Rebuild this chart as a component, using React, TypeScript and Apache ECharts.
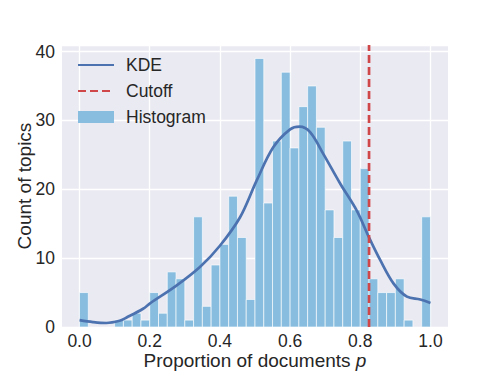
import React, { useEffect, useRef } from "react";
import * as echarts from "echarts";

const binEdgesStart = 0;
const binWidth = 0.025;
const histCounts = [
  5, 0, 0, 0, 1, 1, 2, 1, 5, 2,
  8, 7, 1, 16, 3, 9, 12, 19, 13, 4,
  39, 18, 27, 37, 26, 32, 35, 29, 17, 13,
  27, 17, 23, 7, 5, 5, 7, 1, 0, 16,
];
const kdeX = [0, 0.038, 0.076, 0.114, 0.133, 0.181, 0.2, 0.276, 0.343, 0.4, 0.457, 0.505, 0.552, 0.6, 0.627, 0.657, 0.695, 0.743, 0.79, 0.825, 0.857, 0.895, 0.933, 0.971, 1.0];
const kdeY = [1.0, 0.72, 0.58, 0.9, 1.35, 2.65, 3.4, 6.0, 8.7, 11.8, 15.9, 21.3, 26.1, 28.7, 29.1, 28.3, 25.1, 20.8, 16.9, 13.0, 9.7, 6.3, 4.4, 4.0, 3.5];
const cutoff = 0.825;
const xTicks = [0, 0.2, 0.4, 0.6, 0.8, 1.0];
const yMax = 40.95;

export default function App() {
  const ref = useRef<HTMLDivElement>(null);
  useEffect(() => {
    if (!ref.current) return;
    const chart = echarts.init(ref.current, null, { renderer: "svg" });
    const font = "Liberation Sans, Arial, sans-serif";
    const histData = histCounts.map((c, i) => [binEdgesStart + i * binWidth, binEdgesStart + (i + 1) * binWidth, c]);
    const kdeData = kdeX.map((x, i) => [x, kdeY[i]]);
    chart.setOption({
      animation: false,
      backgroundColor: "#ffffff",
      textStyle: { fontFamily: font },
      grid: { left: 62, right: 50, top: 45, bottom: 47, backgroundColor: "#eaeaf2", show: true, borderWidth: 0, containLabel: false, outerBoundsMode: "none" },
      legend: {
        show: true,
        orient: "vertical",
        left: 77,
        top: 56,
        padding: 0,
        itemWidth: 36,
        itemHeight: 12,
        itemGap: 8,
        textStyle: { fontSize: 17.5, color: "#262626", fontFamily: font, padding: [0, 0, 0, 7] },
        data: [
          { name: "KDE", itemStyle: { opacity: 0 } },
          { name: "Cutoff", itemStyle: { opacity: 0 } },
          { name: "Histogram", icon: "rect" },
        ],
      },
      xAxis: {
        type: "value",
        min: -0.05,
        max: 1.05,
        name: "Proportion of documents {i|p}",
        nameLocation: "middle",
        nameGap: 24,
        nameMoveOverlap: false,
        nameTextStyle: { fontSize: 19, lineHeight: 18, color: "#262626", fontFamily: font, rich: { i: { fontStyle: "italic", fontSize: 19, lineHeight: 18, color: "#262626", fontFamily: font } } },
        axisLine: { show: false },
        axisTick: { show: false, customValues: xTicks },
        axisLabel: { customValues: xTicks, fontSize: 17.5, lineHeight: 18, color: "#262626", margin: 5, fontFamily: font, formatter: (v: number) => v.toFixed(1) },
        splitLine: { show: true, lineStyle: { color: "#ffffff", width: 1.3 } },
      },
      yAxis: {
        type: "value",
        min: 0,
        max: yMax,
        interval: 10,
        name: "Count of topics",
        nameLocation: "middle",
        nameGap: 28,
        nameMoveOverlap: false,
        nameTextStyle: { fontSize: 19, color: "#262626", fontFamily: font },
        axisLine: { show: false },
        axisTick: { show: false },
        axisLabel: { fontSize: 17.5, color: "#262626", margin: 7, fontFamily: font },
        splitLine: { show: true, lineStyle: { color: "#ffffff", width: 1.3 } },
      },
      series: [
        {
          name: "Histogram",
          type: "custom",
          z: 1,
          itemStyle: { color: "#88bddf" },
          data: histData,
          encode: { x: [0, 1], y: 2 },
          renderItem: (params: any, api: any) => {
            const x0 = api.value(0);
            const x1 = api.value(1);
            const c = api.value(2);
            if (!c) return null;
            const p0 = api.coord([x0, c]);
            const p1 = api.coord([x1, 0]);
            return {
              type: "rect",
              shape: { x: p0[0], y: p0[1], width: p1[0] - p0[0], height: p1[1] - p0[1] },
              style: { fill: "#88bddf", stroke: "#ffffff", lineWidth: 0.8, strokeOpacity: 0.8 },
            };
          },
        },
        {
          name: "KDE",
          type: "line",
          z: 3,
          smooth: 0.35,
          symbol: "none",
          showSymbol: false,
          data: kdeData,
          lineStyle: { color: "#4c72b0", width: 2.7 },
          itemStyle: { color: "#4c72b0" },
        },
        {
          name: "Cutoff",
          type: "line",
          z: 4,
          symbol: "none",
          showSymbol: false,
          data: [[cutoff, 0], [cutoff, yMax]],
          lineStyle: { color: "#d0474a", width: 2.7, type: [8, 4] },
          itemStyle: { color: "#d0474a" },
        },
      ],
    });
    return () => chart.dispose();
  }, []);
  return <div ref={ref} style={{ width: 498, height: 374, position: "absolute", left: 0, top: 0 }} />;
}
